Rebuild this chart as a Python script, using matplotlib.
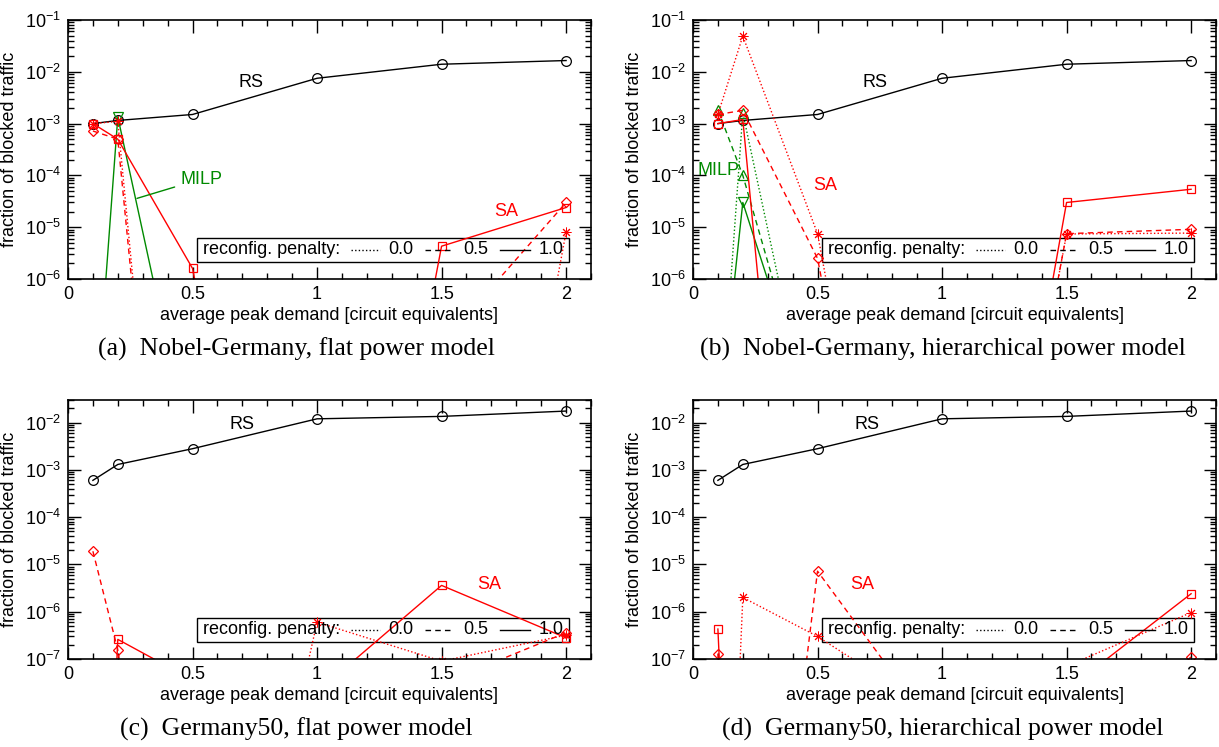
import numpy as np
import matplotlib
matplotlib.use('Agg')
import matplotlib.pyplot as plt
from matplotlib.ticker import MultipleLocator, LogLocator, FuncFormatter, NullFormatter

plt.rcParams['font.family'] = ['Liberation Sans', 'DejaVu Sans']
plt.rcParams['mathtext.default'] = 'regular'

# average peak demand [circuit equivalents]
demand = [0.1, 0.2, 0.5, 1.0, 1.5, 2.0]
milp_demand = [0.1, 0.2, 0.5]

# fraction of blocked traffic, reference scheme
rs_nobel = [1.0e-3, 1.15e-3, 1.5e-3, 7.5e-3, 1.4e-2, 1.65e-2]
rs_g50 = [6.0e-4, 1.3e-3, 2.8e-3, 1.2e-2, 1.35e-2, 1.75e-2]

# simulated annealing, reconfig. penalty 0.0 / 0.5 / 1.0 (0 = nothing blocked)
sa_a_00 = [1.0e-3, 1.1e-3, 0, 0, 0, 8.1e-6]
sa_a_05 = [7.2e-4, 5.0e-4, 0, 0, 5.5e-8, 3.0e-5]
sa_a_10 = [1.0e-3, 5.0e-4, 1.6e-6, 0, 4.3e-6, 2.4e-5]

sa_b_00 = [1.5e-3, 4.9e-2, 7.5e-6, 0, 7.4e-6, 7.7e-6]
sa_b_05 = [1.5e-3, 1.8e-3, 2.5e-6, 0, 7.5e-6, 9.1e-6]
sa_b_10 = [1.0e-3, 1.2e-3, 0, 0, 3.0e-5, 5.4e-5]

sa_c_00 = [0, 0, 0, 6.0e-7, 9.0e-8, 3.2e-7]
sa_c_05 = [1.9e-5, 1.55e-7, 0, 0, 3.0e-8, 3.6e-7]
sa_c_10 = [0, 2.6e-7, 3.6e-8, 2.0e-8, 3.6e-6, 2.8e-7]

sa_d_00 = [0, 2.0e-6, 3.0e-7, 6.0e-9, 7.0e-8, 9.6e-7]
sa_d_05 = [1.3e-7, 0, 7.2e-6, 1.9e-9, 1.0e-9, 1.1e-7]
sa_d_10 = [4.3e-7, 0, 0, 0, 2.2e-8, 2.4e-6]

# MILP (only small demands)
milp_a_10 = [4.0e-10, 1.35e-3, 3.0e-10]
milp_b_00 = [3.0e-10, 1.6e-3, 3.0e-10]
milp_b_05 = [1.85e-3, 1.0e-4, 1.0e-9]
milp_b_10 = [1.0e-9, 3.0e-5, 1.0e-9]

captions = ['(a)  Nobel-Germany, flat power model',
            '(b)  Nobel-Germany, hierarchical power model',
            '(c)  Germany50, flat power model',
            '(d)  Germany50, hierarchical power model']

RED = '#ff0000'
GREEN = '#008a00'
ZERO = 1e-18  # where nothing was blocked, draw the line off the bottom

STYLES = {'0.0': (0, (1, 1.6)), '0.5': (0, (4, 3)), '1.0': '-'}
ASTERISK = (8, 2, 0)


def curve(ax, x, y, color, pen, marker, ms=6.5, mew=0.9):
    y = np.asarray(y, dtype=float)
    y = np.where(y > 0, y, ZERO)
    ax.plot(x, y, color=color, ls=STYLES[pen], lw=1.0, marker=marker,
            ms=ms, mfc='none', mec=color, mew=mew, clip_on=True)


def sa(ax, v00, v05, v10):
    curve(ax, demand, v00, RED, '0.0', ASTERISK, 7, 0.7)
    curve(ax, demand, v05, RED, '0.5', 'D', 5.5)
    curve(ax, demand, v10, RED, '1.0', 's', 6)


def key(ax):
    w, h = 523.0, 259.0
    tr = ax.transAxes
    ax.add_patch(plt.Rectangle((129 / w, 17 / h), (501 - 129) / w, 24 / h,
                               transform=tr, fill=False, ec='black', lw=1.0))
    yc = 29 / h
    ax.text(135 / w, yc, 'reconfig. penalty:', transform=tr, ha='left',
            va='center', fontsize=13)
    for (x0, x1, xt), pen in zip([(283, 312, 333), (357, 386, 408), (432, 462, 483)],
                                 ['0.0', '0.5', '1.0']):
        ax.plot([x0 / w, x1 / w], [yc, yc], transform=tr, color='black',
                ls=STYLES[pen], lw=1.0)
        ax.text(xt / w, yc, pen, transform=tr, ha='center', va='center', fontsize=13)


def decorate(ax, ylim):
    ax.set_yscale('log')
    ax.set_xlim(0, 2.1)
    ax.set_ylim(*ylim)
    ax.set_xticks([0, 0.5, 1, 1.5, 2])
    ax.xaxis.set_major_formatter(FuncFormatter(lambda v, p: '%g' % v))
    ax.xaxis.set_minor_locator(MultipleLocator(0.1))
    ax.yaxis.set_major_locator(LogLocator(base=10, numticks=20))
    ax.yaxis.set_minor_locator(LogLocator(base=10, subs=np.arange(2, 10), numticks=20))
    ax.yaxis.set_minor_formatter(NullFormatter())
    ax.yaxis.set_major_formatter(FuncFormatter(lambda v, p: r'$10^{%d}$' % round(np.log10(v))))
    ax.tick_params(which='both', direction='in', top=True, right=True, labelsize=13, width=1.0)
    ax.tick_params(which='major', length=9, pad=5)
    ax.tick_params(which='minor', length=4.5)
    for s in ax.spines.values():
        s.set_linewidth(1.2)
    ax.set_xlabel('average peak demand [circuit equivalents]', fontsize=13, labelpad=3)
    ax.set_ylabel('fraction of blocked traffic', fontsize=13)
    ax.yaxis.set_label_coords(-0.095, 0.5)
    key(ax)


fig = plt.figure(figsize=(12.19, 7.47), dpi=100)
W, H = 1219.0, 747.0
ax_a = fig.add_axes([68 / W, 1 - 279 / H, 523 / W, 259 / H])
ax_b = fig.add_axes([693 / W, 1 - 279 / H, 523 / W, 259 / H])
ax_c = fig.add_axes([68 / W, 1 - 659 / H, 523 / W, 259 / H])
ax_d = fig.add_axes([693 / W, 1 - 659 / H, 523 / W, 259 / H])

# (a)
ax_a.plot(demand, rs_nobel, color='black', lw=1.0, marker='o', ms=7, mfc='none', mew=0.9)
curve(ax_a, milp_demand, milp_a_10, GREEN, '1.0', 'v', 6.5)
sa(ax_a, sa_a_00, sa_a_05, sa_a_10)
ax_a.text(0.735, 6.3e-3, 'RS', fontsize=13, ha='center', va='center')
ax_a.text(1.76, 2.0e-5, 'SA', fontsize=13, ha='center', va='center', color=RED)
ax_a.annotate('MILP', xy=(0.277, 3.6e-5), xytext=(0.45, 8.5e-5), fontsize=13,
              color=GREEN, va='center', ha='left',
              arrowprops=dict(arrowstyle='-', color=GREEN, lw=1.0, shrinkA=2, shrinkB=0))

# (b)
ax_b.plot(demand, rs_nobel, color='black', lw=1.0, marker='o', ms=7, mfc='none', mew=0.9)
curve(ax_b, milp_demand, milp_b_00, GREEN, '0.0', '^', 6.5)
curve(ax_b, milp_demand, milp_b_05, GREEN, '0.5', '^', 6.5)
curve(ax_b, milp_demand, milp_b_10, GREEN, '1.0', 'v', 6.5)
sa(ax_b, sa_b_00, sa_b_05, sa_b_10)
ax_b.text(0.73, 6.3e-3, 'RS', fontsize=13, ha='center', va='center')
ax_b.text(0.53, 6.3e-5, 'SA', fontsize=13, ha='center', va='center', color=RED)
ax_b.text(0.02, 1.26e-4, 'MILP', fontsize=13, ha='left', va='center', color=GREEN)

# (c)
ax_c.plot(demand, rs_g50, color='black', lw=1.0, marker='o', ms=7, mfc='none', mew=0.9)
sa(ax_c, sa_c_00, sa_c_05, sa_c_10)
ax_c.text(0.70, 9.3e-3, 'RS', fontsize=13, ha='center', va='center')
ax_c.text(1.69, 3.8e-6, 'SA', fontsize=13, ha='center', va='center', color=RED)

# (d)
ax_d.plot(demand, rs_g50, color='black', lw=1.0, marker='o', ms=7, mfc='none', mew=0.9)
sa(ax_d, sa_d_00, sa_d_05, sa_d_10)
ax_d.text(0.70, 9.3e-3, 'RS', fontsize=13, ha='center', va='center')
ax_d.text(0.68, 3.8e-6, 'SA', fontsize=13, ha='center', va='center', color=RED)

decorate(ax_a, (1e-6, 1e-1))
decorate(ax_b, (1e-6, 1e-1))
decorate(ax_c, (1e-7, 3e-2))
decorate(ax_d, (1e-7, 3e-2))

for (xc, yc), cap in zip([(296, 349), (943, 349), (296, 729), (943, 729)], captions):
    fig.text(xc / W, 1 - yc / H, cap, ha='center', va='center', fontsize=18.5,
             family=['Liberation Serif', 'DejaVu Serif'])

fig.savefig('out.png', dpi=100)
